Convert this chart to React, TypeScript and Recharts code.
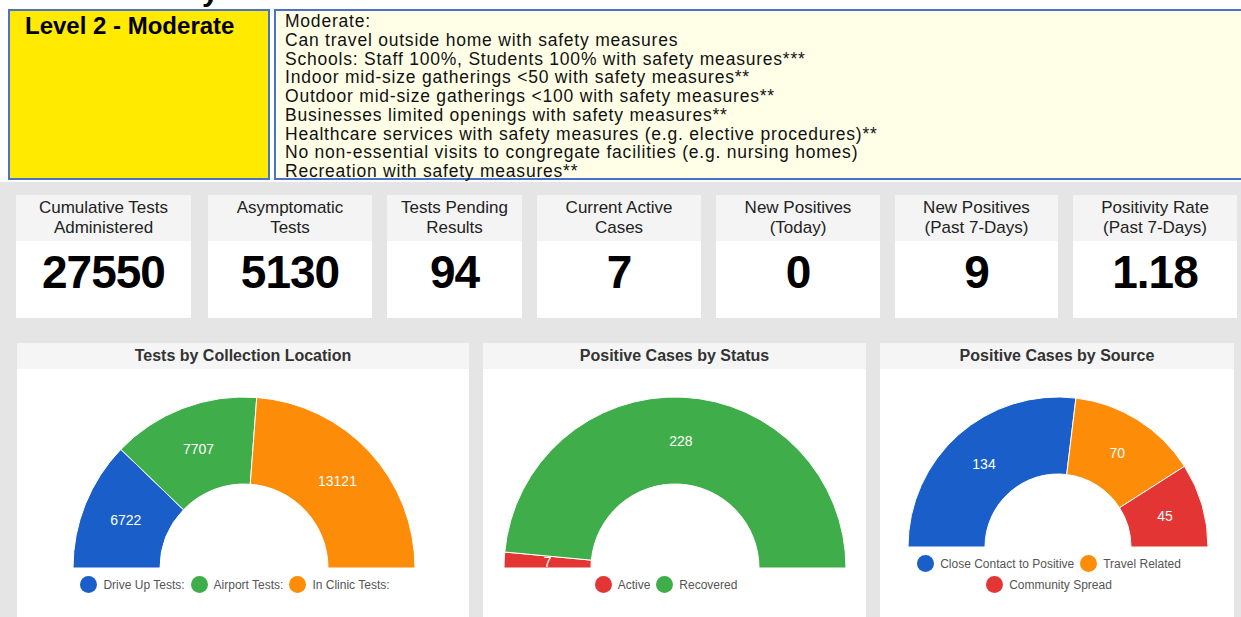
import { PieChart, Pie, Cell } from "recharts";

const levelTitle = "Level 2 - Moderate";
const guidanceLines = [
  "Moderate:",
  "Can travel outside home with safety measures",
  "Schools: Staff 100%, Students 100% with safety measures***",
  "Indoor mid-size gatherings <50 with safety measures**",
  "Outdoor mid-size gatherings <100 with safety measures**",
  "Businesses limited openings with safety measures**",
  "Healthcare services with safety measures (e.g. elective procedures)**",
  "No non-essential visits to congregate facilities (e.g. nursing homes)",
  "Recreation with safety measures**",
];

const kpiLabels = [
  ["Cumulative Tests", "Administered"],
  ["Asymptomatic", "Tests"],
  ["Tests Pending", "Results"],
  ["Current Active", "Cases"],
  ["New Positives", "(Today)"],
  ["New Positives", "(Past 7-Days)"],
  ["Positivity Rate", "(Past 7-Days)"],
];
const kpiValues = ["27550", "5130", "94", "7", "0", "9", "1.18"];

const locationNames = ["Drive Up Tests:", "Airport Tests:", "In Clinic Tests:"];
const locationValues = [6722, 7707, 13121];

const statusNames = ["Active", "Recovered"];
const statusValues = [7, 228];

const sourceNames = ["Close Contact to Positive", "Travel Related", "Community Spread"];
const sourceValues = [134, 70, 45];

const BLUE = "#1a5fc9";
const GREEN = "#40ad4b";
const ORANGE = "#fd8c08";
const RED = "#e43535";

// card positions [left, right]
const cardX = [
  [16, 191],
  [208, 372],
  [387, 522],
  [537, 701],
  [716, 880],
  [895, 1058],
  [1073, 1237],
];

const FONT = "'Liberation Sans', Arial, sans-serif";
const RADIAN = Math.PI / 180;

const renderLabel = (p: any) => {
  const r = (p.innerRadius + p.outerRadius) / 2;
  const x = p.cx + r * Math.cos(-p.midAngle * RADIAN);
  const y = p.cy + r * Math.sin(-p.midAngle * RADIAN);
  return (
    <text x={x} y={y} fill="#fff" fontSize={14} fontFamily={FONT} textAnchor="middle" dominantBaseline="central">
      {p.value}
    </text>
  );
};

interface GaugeProps {
  left: number;
  width: number;
  title: string;
  names: string[];
  values: number[];
  colors: string[];
  cx: number;
  cy: number;
  inner: number;
  outer: number;
  legendTop: number;
  legendWidth: number;
}

const Gauge = (g: GaugeProps) => {
  const data = g.names.map((name, i) => ({ name, value: g.values[i] }));
  return (
    <div style={{ position: "absolute", left: g.left, top: 343, width: g.width, height: 280, background: "#fff" }}>
      <div
        style={{
          height: 26,
          background: "#f5f5f5",
          textAlign: "center",
          fontFamily: FONT,
          fontWeight: "bold",
          fontSize: 16,
          lineHeight: "26px",
          color: "#333",
        }}
      >
        {g.title}
      </div>
      <div style={{ position: "absolute", top: 26, left: 0 }}>
        <PieChart width={g.width} height={250} margin={{ top: 0, right: 0, bottom: 0, left: 0 }}>
          <Pie
            data={data}
            dataKey="value"
            cx={g.cx}
            cy={g.cy}
            startAngle={180}
            endAngle={0}
            innerRadius={g.inner}
            outerRadius={g.outer}
            stroke="#fff"
            strokeWidth={1}
            label={renderLabel}
            labelLine={false}
            isAnimationActive={false}
          >
            {data.map((d, i) => (
              <Cell key={d.name} fill={g.colors[i]} />
            ))}
          </Pie>
        </PieChart>
      </div>
      <div
        style={{
          position: "absolute",
          top: g.legendTop,
          left: g.cx - 6 - g.legendWidth / 2,
          width: g.legendWidth,
          display: "flex",
          flexWrap: "wrap",
          justifyContent: "center",
          rowGap: 4,
          fontFamily: FONT,
          fontSize: 12,
          color: "#555",
        }}
      >
        {g.names.map((n, i) => (
          <div key={n} style={{ display: "flex", alignItems: "center", marginRight: 6, height: 17 }}>
            <span
              style={{
                width: 17,
                height: 17,
                borderRadius: "50%",
                background: g.colors[i],
                display: "inline-block",
                marginRight: 6,
              }}
            />
            <span>{n}</span>
          </div>
        ))}
      </div>
    </div>
  );
};

export default function App() {
  return (
    <div style={{ position: "relative", width: 1241, height: 617, overflow: "hidden", background: "#fff", fontFamily: FONT }}>
      <style>{`body{margin:0}`}</style>
      {/* heading above the boxes, cut off at the top as in the screenshot */}
      <div style={{ position: "absolute", left: 150, top: 0, height: 7, width: 120, overflow: "hidden" }}>
        <div style={{ position: "absolute", top: -26, left: 52, fontSize: 30, fontWeight: "bold", color: "#000" }}>y</div>
      </div>
      <div
        style={{
          position: "absolute",
          left: 8,
          top: 9,
          width: 258,
          height: 167,
          background: "#ffea00",
          border: "2px solid #4a72c8",
        }}
      >
        <div style={{ position: "absolute", left: 15, top: 1, fontSize: 24, fontWeight: "bold", color: "#000", lineHeight: "28px" }}>
          {levelTitle}
        </div>
      </div>
      <div
        style={{
          position: "absolute",
          left: 274,
          top: 9,
          width: 962,
          height: 167,
          background: "#ffffe8",
          border: "2px solid #4a72c8",
          paddingLeft: 9,
          boxSizing: "content-box",
        }}
      >
        <div style={{ fontSize: 17.5, lineHeight: "18.75px", color: "#111", letterSpacing: 0.78, paddingTop: 1 }}>
          {guidanceLines.map((l) => (
            <div key={l}>{l}</div>
          ))}
        </div>
      </div>
      <div style={{ position: "absolute", left: 0, top: 182, width: 1241, height: 435, background: "#e5e5e5" }} />
      {kpiLabels.map((lab, i) => (
        <div
          key={i}
          style={{
            position: "absolute",
            left: cardX[i][0],
            top: 195,
            width: cardX[i][1] - cardX[i][0],
            height: 123,
            background: "#fff",
            textAlign: "center",
          }}
        >
          <div style={{ height: 46, background: "#f4f4f4", fontSize: 17, lineHeight: "20px", paddingTop: 3, boxSizing: "border-box", color: "#222" }}>
            <div>{lab[0]}</div>
            <div>{lab[1]}</div>
          </div>
          <div style={{ fontSize: 46, fontWeight: "bold", lineHeight: "52px", marginTop: 5, color: "#000", letterSpacing: -1 }}>
            {kpiValues[i]}
          </div>
        </div>
      ))}
      <Gauge
        left={17}
        width={452}
        title="Tests by Collection Location"
        names={locationNames}
        values={locationValues}
        colors={[BLUE, GREEN, ORANGE]}
        cx={227}
        cy={199}
        inner={84}
        outer={171}
        legendTop={233}
        legendWidth={400}
      />
      <Gauge
        left={483}
        width={383}
        title="Positive Cases by Status"
        names={statusNames}
        values={statusValues}
        colors={[RED, GREEN]}
        cx={192}
        cy={199}
        inner={84}
        outer={171}
        legendTop={233}
        legendWidth={300}
      />
      <Gauge
        left={880}
        width={354}
        title="Positive Cases by Source"
        names={sourceNames}
        values={sourceValues}
        colors={[BLUE, ORANGE, RED]}
        cx={178}
        cy={178}
        inner={73}
        outer={150}
        legendTop={212}
        legendWidth={290}
      />
    </div>
  );
}
